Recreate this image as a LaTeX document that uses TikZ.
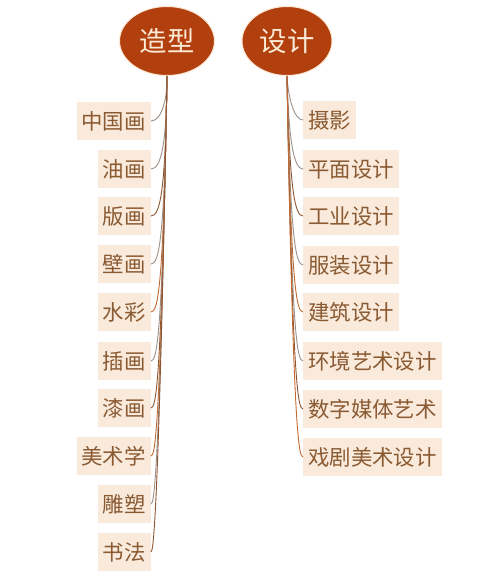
\documentclass[tikz,border=0pt]{standalone}
\usepackage{fontspec}
\newfontfamily\cjk{Noto Sans CJK SC}
\usetikzlibrary{shapes.geometric,calc}
\definecolor{boxfill}{HTML}{F9EADB}
\definecolor{boxtext}{HTML}{8A5A32}
\definecolor{topfill}{HTML}{B23F0E}
\definecolor{toptext}{HTML}{FBEAD5}
\definecolor{cA}{HTML}{C4692F}
\definecolor{cB}{HTML}{8F5530}
\definecolor{cC}{HTML}{9C9088}
\begin{document}
\begin{tikzpicture}[x=1bp,y=-1bp,
  topnode/.style={ellipse, fill=topfill, draw=toptext, line width=1bp, minimum height=69bp, inner sep=0pt, text=toptext, font=\cjk\fontsize{27.5}{28}\selectfont},
  leaf/.style={fill=boxfill, text=boxtext, inner xsep=5bp, inner ysep=0pt, minimum height=38bp, font=\cjk\fontsize{21.5}{22}\selectfont},
  conn/.style={line width=0.9bp}]
\useasboundingbox[fill=white] (0,0) rectangle (500,578);
\node[topnode, minimum width=95bp] (zx) at (167,41) {造型};
\node[topnode, minimum width=90bp] (sj) at (287,41) {设计};
% left leaves
\foreach \t/\y/\c [count=\i] in {中国画/121/cC, 油画/169/cC, 版画/216/cB, 壁画/264/cC, 水彩/312/cA, 插画/361/cC, 漆画/408/cB, 美术学/456/cA, 雕塑/504/cC, 书法/552/cB}{
  \node[leaf, anchor=east] (l\i) at (151,\y) {\t};
  \pgfmathsetmacro{\cx}{168-0.021*(\y-78)}
  \draw[conn, \c] (zx.south) .. controls (\cx+0.5,\y-24) and (\cx-5,\y) .. (l\i.east);
}
% right leaves
\foreach \t/\y/\c [count=\i] in {摄影/120/cC, 平面设计/169/cC, 工业设计/216/cB, 服装设计/265/cC, 建筑设计/312/cA, 环境艺术设计/361/cC, 数字媒体艺术/409/cB, 戏剧美术设计/457/cA}{
  \node[leaf, anchor=west] (r\i) at (303,\y) {\t};
  \pgfmathsetmacro{\cx}{288+0.015*(\y-78)}
  \draw[conn, \c] (sj.south) .. controls (\cx-0.5,\y-24) and (\cx+5,\y) .. (r\i.west);
}
\end{tikzpicture}
\end{document}
